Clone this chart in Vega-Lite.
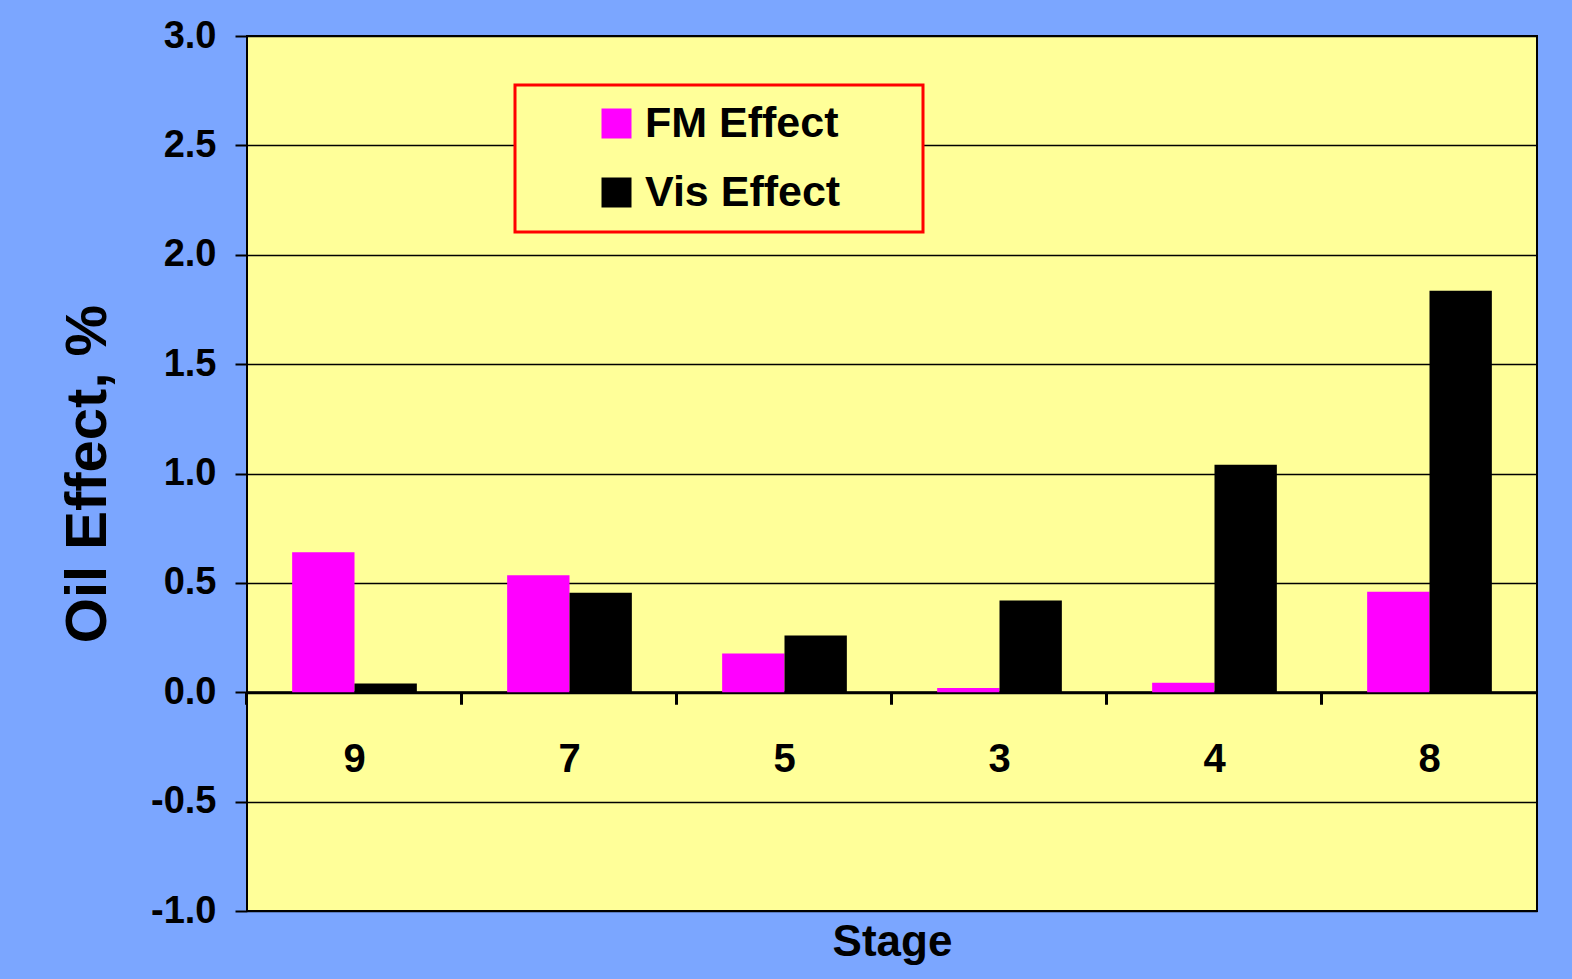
{
  "$schema": "https://vega.github.io/schema/vega-lite/v6.json",
  "autosize": {"type": "none"},
  "padding": {"left": 247, "top": 36, "right": 35, "bottom": 68},
  "width": 1290,
  "height": 875,
  "background": "#7BA6FF",
  "data": {"values": [
    {"stage": "9", "series": "FM Effect", "effect": 0.64},
    {"stage": "9", "series": "Vis Effect", "effect": 0.04},
    {"stage": "7", "series": "FM Effect", "effect": 0.535},
    {"stage": "7", "series": "Vis Effect", "effect": 0.455},
    {"stage": "5", "series": "FM Effect", "effect": 0.177},
    {"stage": "5", "series": "Vis Effect", "effect": 0.26},
    {"stage": "3", "series": "FM Effect", "effect": 0.02},
    {"stage": "3", "series": "Vis Effect", "effect": 0.42},
    {"stage": "4", "series": "FM Effect", "effect": 0.043},
    {"stage": "4", "series": "Vis Effect", "effect": 1.04},
    {"stage": "8", "series": "FM Effect", "effect": 0.46},
    {"stage": "8", "series": "Vis Effect", "effect": 1.835}
  ]},
  "mark": {"type": "bar"},
  "encoding": {
    "x": {
      "field": "stage", "type": "nominal", "sort": null,
      "scale": {"paddingInner": 0.42, "paddingOuter": 0.21},
      "axis": {
        "title": "Stage", "offset": -218.75, "labelAngle": 0,
        "bandPosition": -0.3621, "tickSize": 12, "tickWidth": 3, "tickColor": "black",
        "domainColor": "black", "domainWidth": 3,
        "labelPadding": 35, "labelFontSize": 40, "labelFont": "Liberation Sans", "labelFontWeight": "bold", "labelColor": "black",
        "titleFontSize": 44, "titleFont": "Liberation Sans", "titleFontWeight": "bold", "titleColor": "black",
        "titleBaseline": "alphabetic", "titleY": 263, "grid": false
      }
    },
    "xOffset": {"field": "series", "type": "nominal"},
    "y": {
      "field": "effect", "type": "quantitative",
      "scale": {"domain": [-1, 3], "nice": false, "zero": false},
      "axis": {
        "title": "Oil Effect, %", "values": [-1, -0.5, 0, 0.5, 1, 1.5, 2, 2.5, 3],
        "labelExpr": "(datum.value < 0 ? '-' : '') + format(abs(datum.value), '.1f')",
        "grid": true, "gridColor": "black", "gridWidth": 1.5, "gridOpacity": 1,
        "domain": false, "tickSize": 12, "tickWidth": 2, "tickColor": "black",
        "labelPadding": 19, "labelFontSize": 38, "labelFont": "Liberation Sans", "labelFontWeight": "bold", "labelColor": "black",
        "titleFontSize": 58, "titleFont": "Liberation Sans", "titleFontWeight": "bold", "titleColor": "black",
        "titlePadding": 33
      }
    },
    "color": {
      "field": "series", "type": "nominal",
      "scale": {"domain": ["FM Effect", "Vis Effect"], "range": ["#FF00FF", "#000000"]},
      "legend": {
        "orient": "none", "legendX": 268, "legendY": 49, "direction": "vertical",
        "title": "\u00a0", "titleOrient": "right", "titleFontSize": 10, "titlePadding": 66,
        "padding": 17, "strokeColor": "#FF0000", "fillColor": "#FFFF99",
        "symbolType": "square", "symbolSize": 900, "symbolStrokeWidth": 0, "symbolOpacity": 1,
        "symbolOffset": 63, "labelOffset": 7, "rowPadding": 25, "labelLimit": 500,
        "labelFontSize": 43, "labelFont": "Liberation Sans", "labelFontWeight": "bold", "labelColor": "black",
        "encode": {"legend": {"update": {"strokeWidth": {"value": 3}}}}
      }
    }
  },
  "config": {
    "view": {"fill": "#FFFF99", "stroke": "black", "strokeWidth": 2}
  }
}
